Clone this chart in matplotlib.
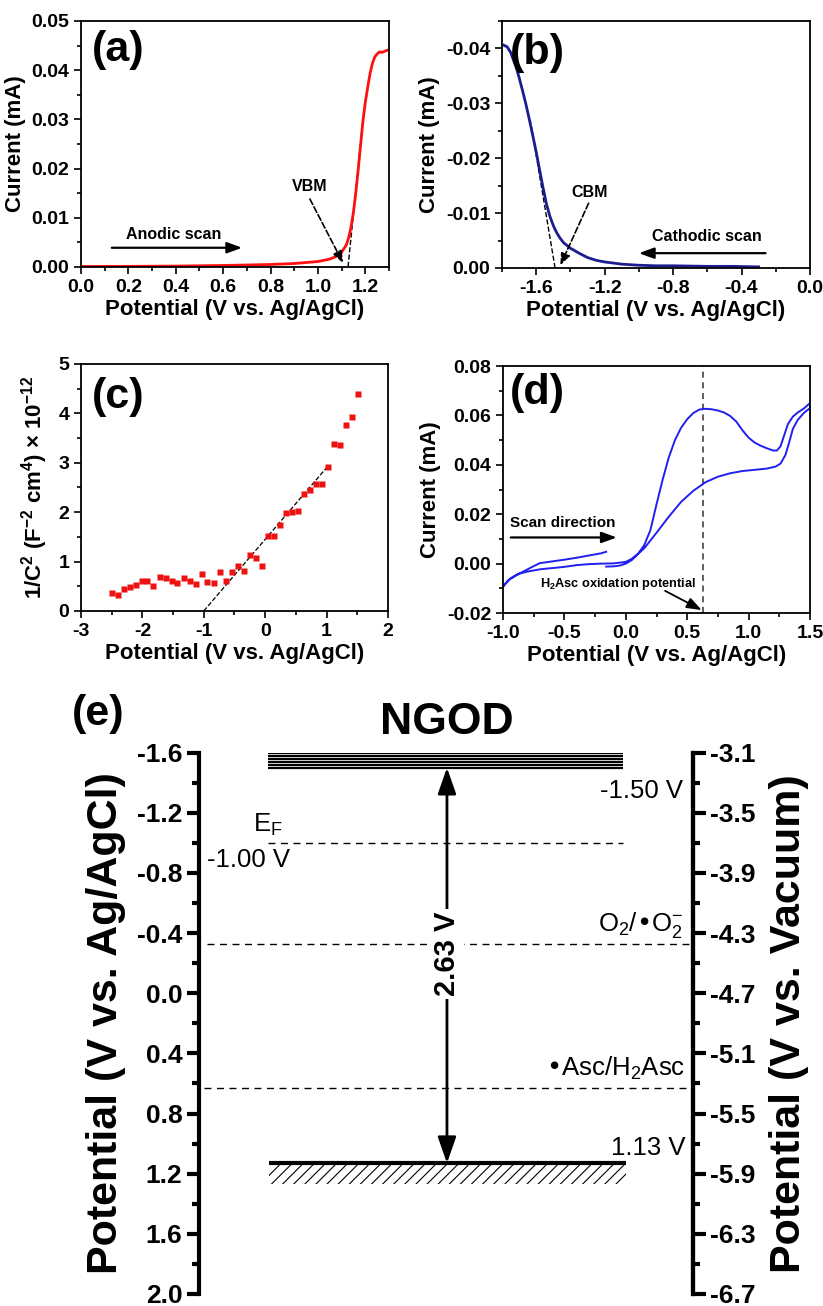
import numpy as np
import matplotlib
matplotlib.use("Agg")
import matplotlib.pyplot as plt
from matplotlib.ticker import MultipleLocator, FormatStrFormatter
from matplotlib.patches import Rectangle

# ---------- data ----------
# (a) anodic scan
pot_a = [0.00, 0.20, 0.40, 0.60, 0.70, 0.80, 0.90, 0.95, 1.00, 1.05, 1.08, 1.10,
         1.12, 1.13, 1.14, 1.15, 1.16, 1.17, 1.18, 1.19, 1.20, 1.21, 1.22, 1.23,
         1.24, 1.25, 1.26, 1.27, 1.28, 1.29, 1.30]
cur_a = [0.0001, 0.00012, 0.00018, 0.0003, 0.0004, 0.0005, 0.0007, 0.0009, 0.0011,
         0.0016, 0.0022, 0.0030, 0.0045, 0.0060, 0.0082, 0.0112, 0.0152, 0.0198,
         0.0248, 0.0297, 0.0335, 0.0365, 0.0393, 0.0414, 0.0427, 0.0433, 0.0437,
         0.0436, 0.0438, 0.0440, 0.0441]
tan_a_pot = [1.127, 1.19]
tan_a_cur = [0.0, 0.030]

# (b) cathodic scan
pot_b = [-1.79, -1.77, -1.75, -1.72, -1.70, -1.68, -1.66, -1.64, -1.62, -1.60,
         -1.58, -1.56, -1.54, -1.52, -1.50, -1.48, -1.46, -1.44, -1.40, -1.35,
         -1.30, -1.25, -1.20, -1.10, -1.00, -0.90, -0.80, -0.60, -0.45, -0.30]
cur_b = [-0.0406, -0.0403, -0.0393, -0.0368, -0.0347, -0.0323, -0.0298, -0.0270,
         -0.0241, -0.0211, -0.0178, -0.0146, -0.0116, -0.0094, -0.0077, -0.0064,
         -0.0054, -0.0046, -0.0036, -0.0027, -0.0019, -0.0014, -0.0011, -0.0007,
         -0.0005, -0.0004, -0.0004, -0.0003, -0.0003, -0.0002]
tan_b_pot = [-1.49, -1.635]
tan_b_cur = [0.0, -0.027]

# (c) Mott-Schottky
pot_c = [-2.49, -2.40, -2.30, -2.20, -2.11, -2.01, -1.92, -1.82, -1.72, -1.62,
         -1.52, -1.43, -1.33, -1.23, -1.13, -1.03, -0.94, -0.84, -0.74, -0.64,
         -0.54, -0.44, -0.34, -0.25, -0.15, -0.05, 0.05, 0.15, 0.24, 0.34,
         0.44, 0.54, 0.63, 0.73, 0.83, 0.93, 1.02, 1.12, 1.22, 1.32, 1.42, 1.52]
inv_c2 = [0.36, 0.32, 0.44, 0.49, 0.53, 0.61, 0.61, 0.51, 0.69, 0.67,
          0.61, 0.56, 0.66, 0.61, 0.55, 0.74, 0.59, 0.56, 0.78, 0.61,
          0.78, 0.91, 0.80, 1.13, 1.07, 0.90, 1.52, 1.52, 1.74, 1.99,
          2.00, 2.02, 2.37, 2.44, 2.57, 2.58, 2.92, 3.37, 3.35, 3.77, 3.92, 4.39]
fit_c_pot = [-1.0, 1.0]
fit_c_val = [0.0, 2.9]

# (d) cyclic voltammogram
pot_d = [-0.16, -0.10, -0.05, 0.00, 0.05, 0.10, 0.15, 0.20, 0.25, 0.30, 0.35, 0.40,
         0.45, 0.50, 0.55, 0.60, 0.65, 0.70, 0.75, 0.80, 0.85, 0.90, 0.95, 1.00,
         1.05, 1.10, 1.15, 1.20, 1.23, 1.26, 1.29, 1.32, 1.36, 1.40, 1.45, 1.50,
         1.50, 1.45, 1.40, 1.36, 1.33, 1.30, 1.26, 1.22, 1.15, 1.05, 0.95, 0.85,
         0.75, 0.65, 0.55, 0.45, 0.35, 0.25, 0.15, 0.10, 0.05, 0.00, -0.10, -0.20,
         -0.30, -0.40, -0.50, -0.60, -0.70, -0.80, -0.88, -0.94, -1.00,
         -0.96, -0.90, -0.85, -0.80, -0.75, -0.70, -0.60, -0.50, -0.40, -0.30,
         -0.20, -0.16]
cur_d = [-0.0012, -0.0011, -0.0008, 0.0000, 0.0015, 0.0040, 0.0075, 0.0135, 0.0240,
         0.0340, 0.0430, 0.0500, 0.0550, 0.0585, 0.0610, 0.0624, 0.0627, 0.0625,
         0.0620, 0.0612, 0.0598, 0.0575, 0.0540, 0.0510, 0.0490, 0.0477, 0.0467,
         0.0458, 0.0458, 0.0475, 0.0520, 0.0565, 0.0595, 0.0612, 0.0628, 0.0650,
         0.0630, 0.0610, 0.0582, 0.0545, 0.0490, 0.0440, 0.0405, 0.0393, 0.0385,
         0.0380, 0.0375, 0.0366, 0.0352, 0.0330, 0.0295, 0.0250, 0.0190, 0.0125,
         0.0062, 0.0040, 0.0020, 0.0007, 0.0001, 0.0000, -0.0002, -0.0006, -0.0013,
         -0.0018, -0.0023, -0.0032, -0.0042, -0.0060, -0.0093,
         -0.0068, -0.0050, -0.0036, -0.0023, -0.0010, 0.0002, 0.0009, 0.0016,
         0.0024, 0.0033, 0.0042, 0.0048]
h2asc_pot = 0.63

# (e) band diagram levels (V vs. Ag/AgCl)
cb_stack = [-1.50, -1.52, -1.54, -1.56, -1.58, -1.60]
cb_level = -1.50
ef_level = -1.00
o2_level = -0.33
asc_level = 0.63
vb_level = 1.13
agcl_ticks = [-1.6, -1.2, -0.8, -0.4, 0.0, 0.4, 0.8, 1.2, 1.6, 2.0]
vac_ticks = [-3.1, -3.5, -3.9, -4.3, -4.7, -5.1, -5.5, -5.9, -6.3, -6.7]
vac_minor = [-3.3, -3.7, -4.1, -4.5, -4.9, -5.3, -5.7, -6.1, -6.5]

# ---------- style ----------
plt.rcParams.update({
    "font.family": ["Liberation Sans", "DejaVu Sans"],
    "font.weight": "bold",
    "axes.labelweight": "bold",
    "axes.unicode_minus": False,
    "mathtext.default": "regular",
    "hatch.linewidth": 0.8,
})

fig = plt.figure(figsize=(8.23, 13.06), dpi=100)


def style_small(ax, xmaj, xmin, ymaj, ymin, xfmt, yfmt):
    for s in ax.spines.values():
        s.set_linewidth(1.3)
    ax.xaxis.set_major_locator(MultipleLocator(xmaj))
    ax.xaxis.set_minor_locator(MultipleLocator(xmin))
    ax.yaxis.set_major_locator(MultipleLocator(ymaj))
    ax.yaxis.set_minor_locator(MultipleLocator(ymin))
    ax.xaxis.set_major_formatter(FormatStrFormatter(xfmt))
    ax.yaxis.set_major_formatter(FormatStrFormatter(yfmt))
    ax.tick_params(which="both", direction="out", top=False, right=False, width=1.2)
    ax.tick_params(which="major", length=5, labelsize=14)
    ax.tick_params(which="minor", length=3)
    ax.set_xlabel("Potential (V vs. Ag/AgCl)", fontsize=16, labelpad=2)


def dashed_arrow(ax, start, tip):
    ax.annotate("", xy=tip, xytext=start,
                arrowprops=dict(arrowstyle="-|>,head_length=0.5,head_width=0.2",
                                linestyle="--", lw=1.2, color="k",
                                shrinkA=0, shrinkB=0, mutation_scale=14))


def solid_arrow(ax, start, tip, lw=1.6):
    ax.annotate("", xy=tip, xytext=start,
                arrowprops=dict(arrowstyle="-|>,head_length=0.6,head_width=0.22",
                                lw=lw, color="k", shrinkA=0, shrinkB=0,
                                mutation_scale=15))


# ---------- (a) ----------
ax_a = fig.add_axes([0.0984, 0.7956, 0.3743, 0.1884])
ax_a.plot(tan_a_pot, tan_a_cur, "k--", lw=1.0)
ax_a.plot(pot_a, cur_a, color="#ff1010", lw=2.0)
ax_a.set_xlim(0, 1.3)
ax_a.set_ylim(0, 0.05)
style_small(ax_a, 0.2, 0.1, 0.01, 0.005, "%.1f", "%.2f")
ax_a.set_ylabel("Current (mA)", fontsize=16, labelpad=4)
ax_a.text(0.035, 0.88, "(a)", transform=ax_a.transAxes, fontsize=31, va="center", ha="left")
ax_a.text(0.39, 0.0065, "Anodic scan", fontsize=11.5, ha="center", va="center")
solid_arrow(ax_a, (0.13, 0.0039), (0.68, 0.0039))
ax_a.text(0.966, 0.0163, "VBM", fontsize=11.5, ha="center", va="center")
dashed_arrow(ax_a, (0.966, 0.0138), (1.106, 0.0008))

# ---------- (b) ----------
ax_b = fig.add_axes([0.6100, 0.7948, 0.3742, 0.1891])
ax_b.plot(tan_b_pot, tan_b_cur, "k--", lw=1.0)
ax_b.plot(pot_b, cur_b, color="#1c1c90", lw=2.0)
ax_b.set_xlim(-1.8, 0.0)
ax_b.set_ylim(0.0, -0.045)
style_small(ax_b, 0.4, 0.2, 0.01, 0.005, "%.1f", "%.2f")
ax_b.set_ylabel("Current (mA)", fontsize=16, labelpad=4)
ax_b.text(0.026, 0.87, "(b)", transform=ax_b.transAxes, fontsize=31, va="center", ha="left")
ax_b.text(-0.60, -0.0057, "Cathodic scan", fontsize=11.5, ha="center", va="center")
solid_arrow(ax_b, (-0.26, -0.0027), (-1.0, -0.0027))
ax_b.text(-1.29, -0.0137, "CBM", fontsize=11.5, ha="center", va="center")
dashed_arrow(ax_b, (-1.294, -0.0118), (-1.459, -0.0005))

# ---------- (c) ----------
ax_c = fig.add_axes([0.0984, 0.5322, 0.3730, 0.1891])
ax_c.plot(fit_c_pot, fit_c_val, "k--", lw=0.9)
ax_c.plot(pot_c, inv_c2, "s", color="#ee1111", ms=4.5, mec="none")
ax_c.set_xlim(-3, 2)
ax_c.set_ylim(0, 5)
style_small(ax_c, 1, 0.5, 1, 0.5, "%d", "%d")
ax_c.set_ylabel("1/C$^{2}$ (F$^{-2}$ cm$^{4}$) × 10$^{-12}$", fontsize=16, labelpad=6)
ax_c.text(0.036, 0.866, "(c)", transform=ax_c.transAxes, fontsize=31, va="center", ha="left")

# ---------- (d) ----------
ax_d = fig.add_axes([0.6112, 0.5306, 0.3730, 0.1891])
ax_d.axvline(h2asc_pot, color="#333333", ls=(0, (4, 3)), lw=1.1)
ax_d.plot(pot_d, cur_d, color="#2020f0", lw=1.4)
ax_d.set_xlim(-1.0, 1.5)
ax_d.set_ylim(-0.02, 0.08)
style_small(ax_d, 0.5, 0.25, 0.02, 0.01, "%.1f", "%.2f")
ax_d.set_ylabel("Current (mA)", fontsize=16, labelpad=4)
ax_d.text(0.023, 0.89, "(d)", transform=ax_d.transAxes, fontsize=31, va="center", ha="left")
ax_d.text(-0.514, 0.0166, "Scan direction", fontsize=11, ha="center", va="center")
solid_arrow(ax_d, (-0.937, 0.0106), (-0.074, 0.0106))
ax_d.text(-0.061, -0.0083, "H$_2$Asc oxidation potential", fontsize=9.2, ha="center", va="center")
solid_arrow(ax_d, (0.32, -0.011), (0.618, -0.0188), lw=1.3)

# ---------- (e) band diagram ----------
ax_e = fig.add_axes([0.2418, 0.00919, 0.6002, 0.4145])
ax_e.set_xlim(0, 1)
ax_e.set_ylim(2.0, -1.6)
for side in ["top", "bottom"]:
    ax_e.spines[side].set_visible(False)
for side in ["left", "right"]:
    ax_e.spines[side].set_linewidth(3)
ax_e.set_xticks([])
ax_e.set_yticks(agcl_ticks)
ax_e.yaxis.set_minor_locator(MultipleLocator(0.2))
ax_e.yaxis.set_major_formatter(FormatStrFormatter("%.1f"))
ax_e.tick_params(axis="y", which="major", direction="out", length=9, width=3,
                 labelsize=19, pad=3)
ax_e.tick_params(axis="y", which="minor", direction="out", length=5, width=3)
ax_e.set_ylabel("Potential (V vs. Ag/AgCl)", fontsize=31, labelpad=8)

ax_v = ax_e.twinx()
ax_v.set_ylim(-6.7, -3.1)
for side in ["top", "bottom", "left"]:
    ax_v.spines[side].set_visible(False)
ax_v.spines["right"].set_linewidth(3)
ax_v.set_yticks(vac_ticks)
ax_v.set_yticks(vac_minor, minor=True)
ax_v.yaxis.set_major_formatter(FormatStrFormatter("%.1f"))
ax_v.tick_params(axis="y", which="major", direction="out", length=9, width=3,
                 labelsize=19, pad=3)
ax_v.tick_params(axis="y", which="minor", direction="out", length=5, width=3)
ax_v.set_ylabel("Potential (V vs. Vacuum)", fontsize=31, labelpad=10)

# conduction band stack and valence band
for lvl in cb_stack:
    ax_e.plot([0.140, 0.858], [lvl, lvl], color="k", lw=1.6, solid_capstyle="butt")
ax_e.plot([0.142, 0.864], [vb_level, vb_level], color="k", lw=3, solid_capstyle="butt")
ax_e.add_patch(Rectangle((0.142, vb_level), 0.722, 0.137, facecolor="none",
                         edgecolor="k", lw=0, hatch="///"))

# reference levels
ax_e.plot([0.140, 0.858], [ef_level, ef_level], color="k", lw=1.0, ls=(0, (5, 4)))
ax_e.plot([0.016, 1.0], [o2_level, o2_level], color="k", lw=1.0, ls=(0, (5, 4)))
ax_e.plot([0.010, 1.0], [asc_level, asc_level], color="k", lw=1.0, ls=(0, (5, 4)))

# band gap arrow
ax_e.annotate("", xy=(0.502, cb_level), xytext=(0.502, vb_level),
              arrowprops=dict(arrowstyle="<|-|>,head_length=0.8,head_width=0.28",
                              lw=2, color="k", shrinkA=0, shrinkB=0, mutation_scale=20))
ax_e.text(0.502, -0.26, "2.63 V", rotation=90, fontsize=21, ha="center", va="center",
          bbox=dict(facecolor="white", edgecolor="none", pad=2))

ax_e.text(0.502, -1.80, "NGOD", fontsize=32, ha="center", va="center")
fig.text(0.0875, 0.4533, "(e)", fontsize=31, ha="left", va="center")

ax_e.text(0.980, -1.30, "-1.50 V", fontsize=18.5, fontweight="normal", ha="right", va="baseline")
ax_e.text(0.109, -1.076, "E$_\\mathregular{F}$", fontsize=18.5, fontweight="normal",
          ha="left", va="baseline")
ax_e.text(0.016, -0.837, "-1.00 V", fontsize=18.5, fontweight="normal", ha="left", va="baseline")
ax_e.text(0.980, -0.414, "O$_2$/•O$_2^{-}$", fontsize=18.5, fontweight="normal",
          ha="right", va="baseline")
ax_e.text(0.984, 0.546, "•Asc/H$_2$Asc", fontsize=18.5, fontweight="normal",
          ha="right", va="baseline")
ax_e.text(0.984, 1.075, "1.13 V", fontsize=18.5, fontweight="normal", ha="right", va="baseline")

fig.savefig("out.png", dpi=100)
